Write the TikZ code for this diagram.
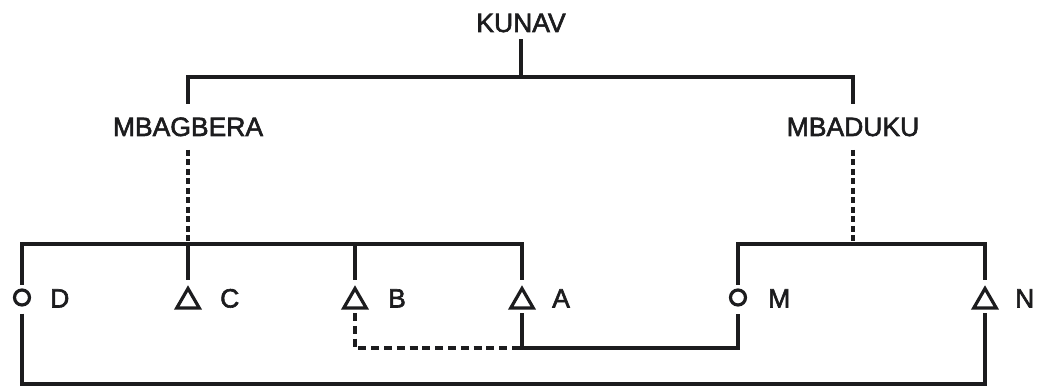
\documentclass[tikz,border=0pt]{standalone}
\usepackage{fontspec}
\setmainfont{Liberation Sans}
\newfontfamily\lblfont{Liberation Sans}[FakeBold=2.2]
\usetikzlibrary{shapes.geometric}
\definecolor{ink}{RGB}{28,28,30}
\tikzset{
  lbl/.style={font=\lblfont\fontsize{26.5}{30}\selectfont, text=ink, inner xsep=0pt},
  tri/.style={draw=ink, regular polygon, regular polygon sides=3, minimum size=26pt, inner sep=0pt, outer sep=0pt, line width=3.2pt},
  circ/.style={draw=ink, circle, minimum size=15pt, inner sep=0pt, outer sep=0pt, line width=3.2pt},
  conn/.style={draw=ink, line width=3.5pt},
  vdash/.style={conn, dash pattern=on 6pt off 3.5pt},
  hdash/.style={conn, dash pattern=on 8pt off 4.8pt},
}
\begin{document}
\begin{tikzpicture}[x=1pt,y=-1pt]
\useasboundingbox[fill=white] (0,0) rectangle (1038,387);
% top labels
\node[lbl, anchor=base, inner ysep=7pt] (kunav) at (521,32) {KUNAV};
\node[lbl, anchor=base, inner ysep=13.5pt] (mbag) at (188,136) {MBAGBERA};
\node[lbl, anchor=base, inner ysep=13.5pt] (mbad) at (853,136) {MBADUKU};
% junction coordinates
\coordinate (jK) at (521,77);
\coordinate (barC) at (188,244);
\coordinate (barB) at (355,244);
\coordinate (barA) at (522,244);
\coordinate (barMN) at (853,244);
\coordinate (barN) at (985,244);
\coordinate (lowA) at (522,348);
\coordinate (lowM) at (738,348);
\coordinate (lowN) at (985,384);
% symbols
\node[circ] (D) at (22,297.5) {};
\node[tri]  (C) at (188,301.5) {};
\node[tri]  (B) at (355,301.5) {};
\node[tri]  (A) at (522,301.5) {};
\node[circ] (M) at (738,297.5) {};
\node[tri]  (N) at (985,301.5) {};
% symbol labels
\node[lbl, anchor=base west, inner sep=0pt] (Dl) at (50,307.5) {D};
\node[lbl, anchor=base west, inner sep=0pt] (Cl) at (220,307.5) {C};
\node[lbl, anchor=base west, inner sep=0pt] (Bl) at (388,307.5) {B};
\node[lbl, anchor=base west, inner sep=0pt] (Al) at (552,307.5) {A};
\node[lbl, anchor=base west, inner sep=0pt] (Ml) at (768,307.5) {M};
\node[lbl, anchor=base west, inner sep=0pt] (Nl) at (1015,307.5) {N};
% top tree
\draw[conn] (kunav.south) -- (jK);
\draw[conn] (mbag.north) |- (jK) -| (mbad.north);
\draw[vdash] (mbag.south) -- (barC);
\draw[vdash] (mbad.south) -- (barMN);
% left sibling bar
\draw[conn, shorten <=5.5pt, shorten >=8pt] (D.north) |- (barA) -- (A.north);
\draw[conn, shorten >=8pt] (barC) -- (C.north);
\draw[conn, shorten >=8pt] (barB) -- (B.north);
% right sibling bar
\draw[conn, shorten <=5.5pt, shorten >=8pt] (M.north) |- (barN) -- (N.north);
% marriages
\draw[conn, shorten <=5pt, shorten >=8.5pt] (A.south) -- (lowA) -- (lowM) -- (M.south);
\draw[hdash, shorten <=5pt] (B.south) |- (lowA);
\draw[conn, shorten <=8.5pt, shorten >=5pt] (D.south) |- (lowN) -- (N.south);
\end{tikzpicture}
\end{document}
